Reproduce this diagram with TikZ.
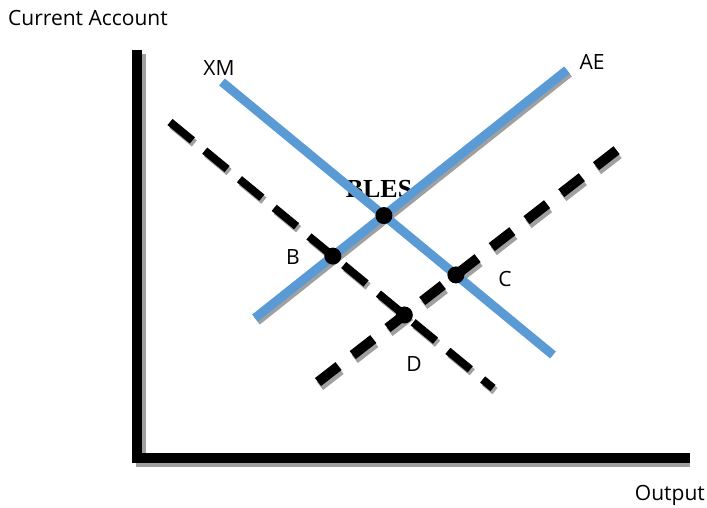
\documentclass[tikz,border=0pt]{standalone}
\usepackage{fontspec}
\setmainfont{Open Sans}
\newfontfamily\blesfont{Liberation Serif}
\usetikzlibrary{calc}
\definecolor{CurveBlue}{RGB}{91,155,213}
\definecolor{ShadowGrey}{RGB}{160,160,160}
\tikzset{
  axisline/.style={line width=10pt,draw=black},
  axisshadow/.style={line width=10pt,draw=ShadowGrey},
  blueline/.style={line width=9pt,draw=CurveBlue},
  blueshadow/.style={line width=9pt,draw=ShadowGrey},
  dashline/.style={line width=8pt,draw=black,dash pattern=on 29pt off 16pt},
  dashshadow/.style={line width=8pt,draw=ShadowGrey,dash pattern=on 29pt off 16pt},
  thickdash/.style={line width=10pt,draw=black,dash pattern=on 26pt off 18pt},
  thickshadow/.style={line width=10pt,draw=ShadowGrey,dash pattern=on 26pt off 18pt},
  dot/.style={circle,fill=black,inner sep=0pt,minimum size=17pt},
  lbl/.style={font=\fontsize{21}{24}\selectfont,inner sep=0pt}
}

\begin{document}
\begin{tikzpicture}[x=1pt,y=-1pt]
  \useasboundingbox (0,0) rectangle (707,508);

  % axes
  \coordinate (top) at (137,50);
  \coordinate (origin) at (137,458);
  \coordinate (right) at (690,458);
  \draw[axisshadow] ($(top)+(4,4)$) -- ($(origin)+(4,4)$) -- ($(right)+(0,4)$);
  \draw[axisline] (top) -- (origin) -- (right);

  % curve ends
  \coordinate (xm1) at (222,82);
  \coordinate (xm2) at (553,355);
  \coordinate (ae1) at (255,318);
  \coordinate (ae2) at (567,70);
  \coordinate (da1) at (170,122);
  \coordinate (da2) at (493,388);
  \coordinate (db1) at (318,382);
  \coordinate (db2) at (622,146);

  \node[font=\blesfont\bfseries\fontsize{26}{28}\selectfont,inner sep=0pt] (bles) at (379,189) {BLES};

  % dashed curves
  \draw[dashshadow] ($(da1)+(2,3)$) -- ($(da2)+(2,3)$);
  \draw[dashline] (da1) -- (da2);
  \draw[thickshadow] ($(db1)+(2,4)$) -- ($(db2)+(2,4)$);
  \draw[thickdash] (db1) -- (db2);

  % solid curves
  \draw[blueshadow] ($(ae1)+(2,3)$) -- ($(ae2)+(2,3)$);
  \draw[blueline] (ae1) -- (ae2);
  \draw[blueline] (xm1) -- (xm2);

  % intersections
  \node[dot] (E) at (intersection of xm1--xm2 and ae1--ae2) {};
  \node[dot] (B) at (intersection of da1--da2 and ae1--ae2) {};
  \node[dot] (C) at (intersection of xm1--xm2 and db1--db2) {};
  \node[dot] (D) at (intersection of da1--da2 and db1--db2) {};

  % labels
  \node[lbl,anchor=west] (ca) at (8,18) {Current Account};
  \node[lbl,anchor=east] (out) at (705,495) {Output};
  \node[lbl] (xm) at (219,68) {XM};
  \node[lbl] (ae) at (592,62) {AE};
  \node[lbl] (lb) at (293,257) {B};
  \node[lbl] (lc) at (505,279) {C};
  \node[lbl] (ld) at (414,364) {D};
\end{tikzpicture}
\end{document}
